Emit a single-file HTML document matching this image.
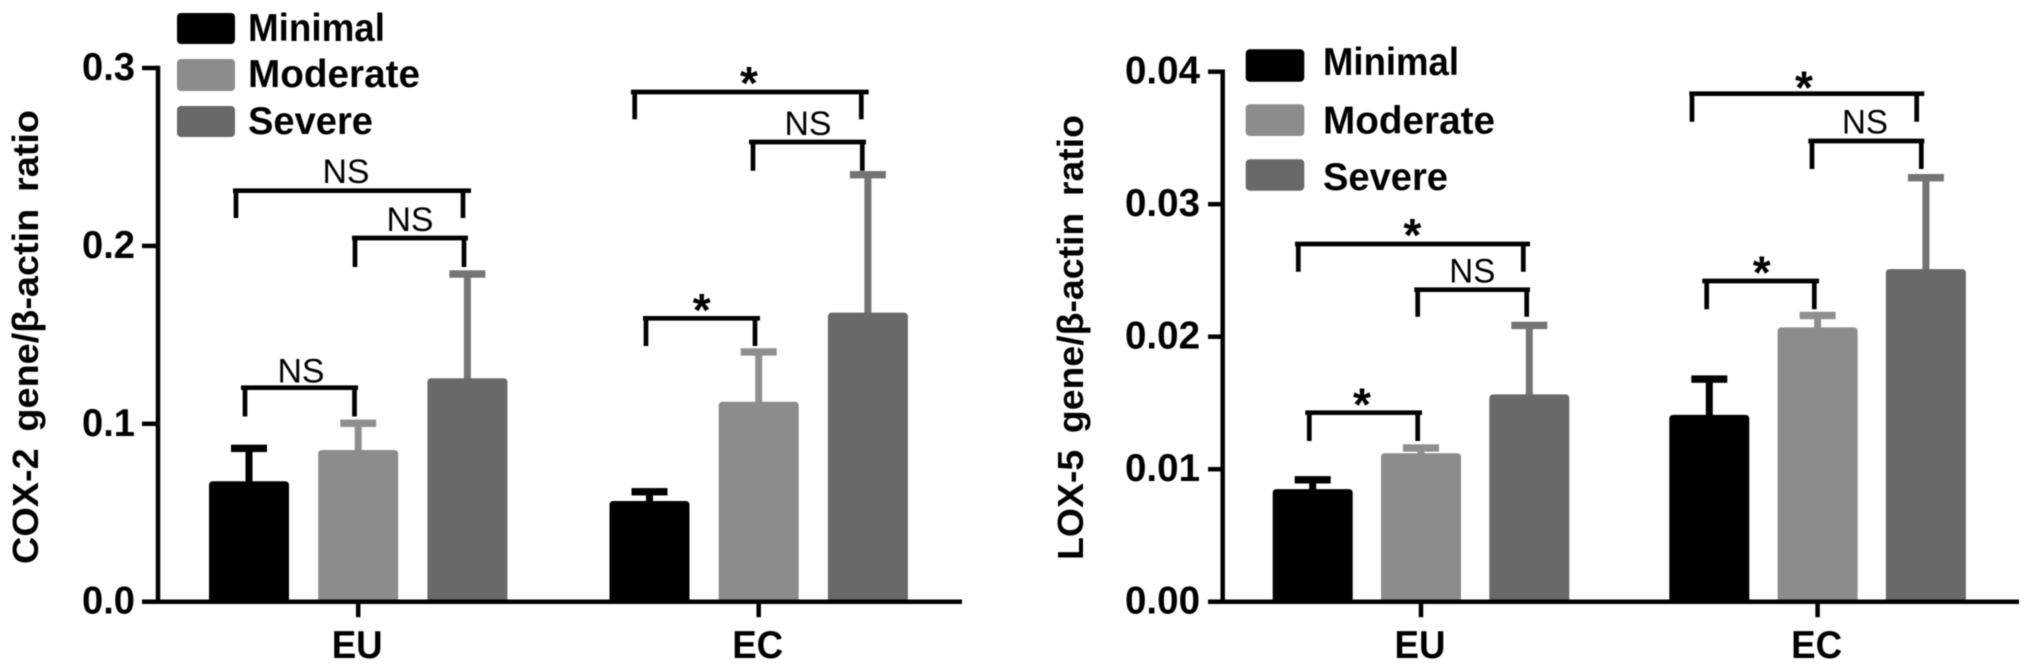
<!DOCTYPE html>
<html lang="en">
<head>
<meta charset="utf-8">
<title>COX-2 and LOX-5 gene expression by inflammation severity</title>
<style>
  html, body { margin: 0; padding: 0; background: #fff; width: 2031px; height: 672px; overflow: hidden; }
  svg { display: block; filter: blur(0.6px); }
  text { font-family: "Liberation Sans", "DejaVu Sans", sans-serif; fill: #000; }
  .tick-label { font-weight: bold; font-size: 39px; text-anchor: end; }
  .cat-label { font-weight: bold; font-size: 39px; text-anchor: middle; }
  .legend-label { font-weight: bold; font-size: 39px; }
  .axis-title { font-weight: bold; font-size: 36px; word-spacing: 6px; }
  .ns { font-size: 34px; text-anchor: middle; }
  .star { font-size: 46px; font-weight: bold; text-anchor: middle; }
  .bracket { fill: none; stroke: #000; stroke-width: 4.7; }
</style>
</head>
<body>
<svg id="figure" xmlns="http://www.w3.org/2000/svg" width="2031" height="672" viewBox="0 0 2031 672">
  <g id="cox-chart">
    <text class="axis-title" transform="translate(38,337) rotate(-90)" text-anchor="middle" textLength="454" lengthAdjust="spacingAndGlyphs">COX-2 gene/β-actin ratio</text>
    <g>
      <rect x="177" y="13" width="58" height="31" rx="4" fill="#000"/>
      <text class="legend-label" x="248" y="41" textLength="137" lengthAdjust="spacingAndGlyphs">Minimal</text>
      <rect x="177" y="59" width="58" height="32" rx="4" fill="#8c8c8c"/>
      <text class="legend-label" x="248" y="87" textLength="172" lengthAdjust="spacingAndGlyphs">Moderate</text>
      <rect x="177" y="106" width="58" height="31" rx="4" fill="#696969"/>
      <text class="legend-label" x="248" y="134" textLength="125" lengthAdjust="spacingAndGlyphs">Severe</text>
    </g>
    <g>
      <path class="bracket" d="M233 190.7H471M236 190.7V218M463 190.7V218"/>
      <text class="ns" x="346" y="183" textLength="47" lengthAdjust="spacingAndGlyphs">NS</text>
      <path class="bracket" d="M352 238H468M355 238V267M464 238V267"/>
      <text class="ns" x="410" y="231" textLength="47" lengthAdjust="spacingAndGlyphs">NS</text>
      <path class="bracket" d="M241 387.7H358M245 387.7V416.5M354.5 387.7V416.5"/>
      <text class="ns" x="301" y="382.7" textLength="47" lengthAdjust="spacingAndGlyphs">NS</text>
      <path class="bracket" d="M631 92H868.7M634.7 92V119.3M861.3 92V119.3"/>
      <text class="star" x="749" y="99">*</text>
      <path class="bracket" d="M749 142H866M753 142V170.7M862.3 142V170.7"/>
      <text class="ns" x="808" y="135" textLength="47" lengthAdjust="spacingAndGlyphs">NS</text>
      <path class="bracket" d="M643 318.3H760M646 318.3V346M755 318.3V346"/>
      <text class="star" x="701.7" y="326">*</text>
    </g>
  </g>
  <g id="lox-chart">
    <text class="axis-title" transform="translate(1083,337.5) rotate(-90)" text-anchor="middle" textLength="445" lengthAdjust="spacingAndGlyphs">LOX-5 gene/β-actin ratio</text>
    <g>
      <rect x="1245.7" y="49.3" width="58.6" height="32.4" rx="4" fill="#000"/>
      <text class="legend-label" x="1323" y="75" textLength="136" lengthAdjust="spacingAndGlyphs">Minimal</text>
      <rect x="1245.7" y="104.3" width="58.6" height="31.7" rx="4" fill="#8c8c8c"/>
      <text class="legend-label" x="1323" y="133.3" textLength="172" lengthAdjust="spacingAndGlyphs">Moderate</text>
      <rect x="1245.7" y="159.3" width="58.6" height="31.4" rx="4" fill="#696969"/>
      <text class="legend-label" x="1323" y="190" textLength="125" lengthAdjust="spacingAndGlyphs">Severe</text>
    </g>
    <g>
      <path class="bracket" d="M1295 244H1530M1298.3 244V271.7M1523.3 244V271.7"/>
      <text class="star" x="1412.3" y="251">*</text>
      <path class="bracket" d="M1414.3 289.7H1530M1417.7 289.7V316.7M1526.7 289.7V316.7"/>
      <text class="ns" x="1472.3" y="282.3" textLength="46" lengthAdjust="spacingAndGlyphs">NS</text>
      <path class="bracket" d="M1305.3 412.7H1422M1309.3 412.7V441M1417.7 412.7V441"/>
      <text class="star" x="1362" y="420.7">*</text>
      <path class="bracket" d="M1689.3 93.7H1924.3M1692 93.7V121.7M1916.7 93.7V121.7"/>
      <text class="star" x="1804" y="103.7">*</text>
      <path class="bracket" d="M1808.3 141H1924.3M1812 141V169M1921.3 141V169"/>
      <text class="ns" x="1865" y="133.3" textLength="46" lengthAdjust="spacingAndGlyphs">NS</text>
      <path class="bracket" d="M1702.3 281H1819M1706.7 281V309.3M1814.3 281V309.3"/>
      <text class="star" x="1761.7" y="288.7">*</text>
    </g>
  </g>
</svg>
<script>
// Shared categories and series names
const categories = ['EU', 'EC'];
const seriesNames = ['minimal', 'moderate', 'severe'];

// COX-2 chart data (EU, EC)
const coxMinimal = [0.0677, 0.0566];
const coxModerate = [0.0853, 0.1124];
const coxSevere = [0.1256, 0.1625];
const coxMinimalErr = [0.0185, 0.0052];
const coxModerateErr = [0.0150, 0.0280];
const coxSevereErr = [0.0586, 0.0775];
const coxTicks = [0, 0.1, 0.2, 0.3];
const coxTickLabels = ['0.0', '0.1', '0.2', '0.3'];

// LOX-5 chart data (EU, EC)
const loxMinimal = [0.0085, 0.0141];
const loxModerate = [0.0112, 0.0207];
const loxSevere = [0.01565, 0.0251];
const loxMinimalErr = [0.0007, 0.0027];
const loxModerateErr = [0.0004, 0.0009];
const loxSevereErr = [0.0052, 0.0069];
const loxTicks = [0, 0.01, 0.02, 0.03, 0.04];
const loxTickLabels = ['0.00', '0.01', '0.02', '0.03', '0.04'];

const SVG_NS = 'http://www.w3.org/2000/svg';
const barFills = ['#000000', '#8c8c8c', '#696969'];
const errFills = ['#000000', '#8f8f8f', '#747474'];

function make(parent, tag, attrs) {
  const el = document.createElementNS(SVG_NS, tag);
  for (const k in attrs) el.setAttribute(k, attrs[k]);
  parent.appendChild(el);
  return el;
}

function drawChart(rootId, layout, means, errs, ticks, tickLabels) {
  const root = document.getElementById(rootId);
  const yScale = function (v) {
    return layout.baseY - (v / layout.yMax) * (layout.baseY - layout.topY);
  };
  const barLeft = function (c, s) {
    return layout.barStart + c * layout.groupStep + s * layout.barStep;
  };

  // Bars and error bars
  means.forEach(function (seriesValues, s) {
    seriesValues.forEach(function (value, c) {
      const x = barLeft(c, s);
      const top = yScale(value);
      const upper = yScale(value + errs[s][c]);
      const mid = x + layout.barW / 2;

      const stem = make(root, 'rect', { x: mid - 3.5, y: upper, width: 7, height: top - upper + 2, fill: errFills[s] });
      
      

      const cap = make(root, 'rect', { x: mid - 18, y: upper - 3.7, width: 36, height: 7.4, fill: errFills[s] });
      
      

      const r = 4;
      const bar = make(root, 'path', {
        d: 'M' + x + ' ' + layout.baseY + 'V' + (top + r) + 'Q' + x + ' ' + top + ' ' + (x + r) + ' ' + top +
           'H' + (x + layout.barW - r) + 'Q' + (x + layout.barW) + ' ' + top + ' ' + (x + layout.barW) + ' ' + (top + r) +
           'V' + layout.baseY + 'Z',
        fill: barFills[s]
      });
      
      
    });
  });

  // Y axis line
  const yAxis = make(root, 'line', { x1: layout.axisX, x2: layout.axisX, y1: yScale(layout.yMax) - 2.2, y2: layout.baseY, stroke: '#000', 'stroke-width': 4.5 });
  
  

  // X axis line
  const xAxis = make(root, 'line', { x1: layout.tickStart, x2: layout.axisEnd, y1: layout.baseY, y2: layout.baseY, stroke: '#000', 'stroke-width': 4.5 });
  
  

  // Y ticks and labels
  ticks.forEach(function (t, i) {
    const tick = make(root, 'line', { x1: layout.tickStart, x2: layout.axisX, y1: yScale(t), y2: yScale(t), stroke: '#000', 'stroke-width': 4.5 });
    
    

    const label = make(root, 'text', { class: 'tick-label', x: layout.labelRight, y: yScale(t) + 12, textLength: layout.labelWidth, lengthAdjust: 'spacingAndGlyphs' });
    label.textContent = tickLabels[i];
    
    
  });

  // X ticks and category labels
  categories.forEach(function (name, c) {
    const cx = barLeft(c, 1) + layout.barW / 2;
    const tick = make(root, 'line', { x1: cx, x2: cx, y1: layout.baseY, y2: layout.baseY + 15.5, stroke: '#000', 'stroke-width': 4.5 });
    
    

    const label = make(root, 'text', { class: 'cat-label', x: cx - 1, y: layout.baseY + 56.5, textLength: 51, lengthAdjust: 'spacingAndGlyphs' });
    label.textContent = name;
    
    
  });
}

drawChart('cox-chart',
  { baseY: 601.7, topY: 68, yMax: 0.3, axisX: 158, tickStart: 142, axisEnd: 962, labelRight: 135, labelWidth: 53, barStart: 209, barStep: 109.2, groupStep: 400.5, barW: 80 },
  [coxMinimal, coxModerate, coxSevere],
  [coxMinimalErr, coxModerateErr, coxSevereErr],
  coxTicks, coxTickLabels);

drawChart('lox-chart',
  { baseY: 601.7, topY: 71.7, yMax: 0.04, axisX: 1222.7, tickStart: 1208, axisEnd: 2019, labelRight: 1200, labelWidth: 75, barStart: 1272.7, barStep: 108.3, groupStep: 396.6, barW: 80 },
  [loxMinimal, loxModerate, loxSevere],
  [loxMinimalErr, loxModerateErr, loxSevereErr],
  loxTicks, loxTickLabels);
</script>
</body>
</html>
